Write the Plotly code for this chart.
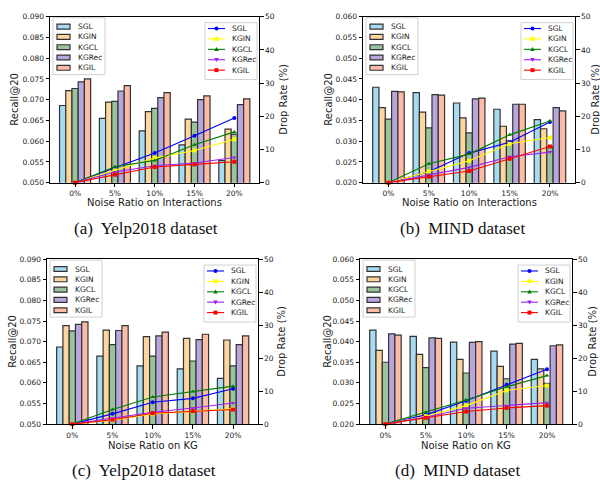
import plotly.graph_objects as go

categories = ["0%", "5%", "10%", "15%", "20%"]
models = ["SGL", "KGIN", "KGCL", "KGRec", "KGIL"]

# Recall@20 bars, rows follow `models`
recall_yelp_inter = [
    [0.0686, 0.0655, 0.0625, 0.0591, 0.0553],
    [0.0722, 0.0694, 0.0671, 0.0653, 0.0629],
    [0.0727, 0.0696, 0.0679, 0.0646, 0.0617],
    [0.0743, 0.0721, 0.0705, 0.0700, 0.0688],
    [0.0750, 0.0734, 0.0717, 0.0709, 0.0702],
]
drop_yelp_inter = [
    [0, 4.5, 8.9, 14.1, 19.5],
    [0, 3.7, 7.4, 9.7, 13.1],
    [0, 4.8, 6.7, 11.4, 15.3],
    [0, 3.2, 5.1, 5.9, 7.6],
    [0, 2.4, 4.7, 5.5, 6.3],
]
recall_mind_inter = [
    [0.0430, 0.0417, 0.0392, 0.0377, 0.0352],
    [0.0381, 0.0370, 0.0356, 0.0336, 0.0330],
    [0.0353, 0.0332, 0.0320, 0.0301, 0.0286],
    [0.0420, 0.0412, 0.0402, 0.0389, 0.0381],
    [0.0419, 0.0411, 0.0404, 0.0389, 0.0373],
]
drop_mind_inter = [
    [0, 3.3, 8.9, 12.2, 18.3],
    [0, 3.4, 6.6, 11.7, 13.6],
    [0, 5.7, 8.6, 14.4, 18.6],
    [0, 2.2, 4.6, 7.8, 9.2],
    [0, 1.8, 3.5, 7.2, 10.9],
]
recall_yelp_kg = [
    [0.0687, 0.0665, 0.0641, 0.0634, 0.0611],
    [0.0739, 0.0728, 0.0712, 0.0708, 0.0704],
    [0.0726, 0.0693, 0.0665, 0.0653, 0.0641],
    [0.0742, 0.0727, 0.0714, 0.0705, 0.0693],
    [0.0748, 0.0739, 0.0723, 0.0718, 0.0714],
]
drop_yelp_kg = [
    [0, 3.1, 6.6, 7.8, 10.7],
    [0, 1.2, 3.1, 3.8, 4.6],
    [0, 4.4, 8.2, 9.9, 11.5],
    [0, 1.7, 3.6, 4.9, 6.4],
    [0, 1.3, 3.3, 3.9, 4.4],
]
recall_mind_kg = [
    [0.0428, 0.0413, 0.0399, 0.0377, 0.0357],
    [0.0379, 0.0369, 0.0357, 0.0340, 0.0334],
    [0.0350, 0.0337, 0.0324, 0.0310, 0.0299],
    [0.0419, 0.0409, 0.0398, 0.0394, 0.0390],
    [0.0416, 0.0408, 0.0400, 0.0396, 0.0392],
]
drop_mind_kg = [
    [0, 2.8, 7.1, 11.9, 16.6],
    [0, 2.4, 5.6, 10.2, 11.7],
    [0, 3.6, 7.3, 11.3, 14.7],
    [0, 2.1, 4.8, 5.6, 6.5],
    [0, 1.9, 3.8, 4.9, 5.6],
]

bar_colors = ["#a6dbf1", "#fdd59f", "#98c39d", "#b9a6df", "#fdbca5"]
line_colors = ["#0000ff", "#ffff00", "#008000", "#a020f0", "#ff0000"]
line_symbols = ["circle", "square", "triangle-up", "triangle-down", "square"]

W, H = 600, 487
FONT = "DejaVu Sans"
TXT = "#1a1a1a"

panels = [
    dict(recall=recall_yelp_inter, drop=drop_yelp_inter, rng=[0.05, 0.09],
         box=(50, 13, 259, 182), xt="Noise Ratio on Interactions", xty=20,
         cap="(a)  Yelp2018 dataset", capx=146, ylx=15, yrx=284),
    dict(recall=recall_mind_inter, drop=drop_mind_inter, rng=[0.02, 0.06],
         box=(363, 13, 575, 182), xt="Noise Ratio on Interactions", xty=20,
         cap="(b)  MIND dataset", capx=463, ylx=329, yrx=596),
    dict(recall=recall_yelp_kg, drop=drop_yelp_kg, rng=[0.05, 0.09],
         box=(47, 260, 258, 428), xt="Noise Ratio on KG", xty=21.5,
         cap="(c)  Yelp2018 dataset", capx=144, ylx=13, yrx=282),
    dict(recall=recall_mind_kg, drop=drop_mind_kg, rng=[0.02, 0.06],
         box=(360, 260, 572, 428), xt="Noise Ratio on KG", xty=21.5,
         cap="(d)  MIND dataset", capx=457, ylx=328, yrx=593),
]


def px(x):
    return x / W


def py(y):
    return 1 - y / H


fig = go.Figure()
shapes = []
annotations = []
layout = {}

for i, p in enumerate(panels):
    xn = "" if i == 0 else str(i + 1)
    yl = "" if i == 0 else str(2 * i + 1)
    yr = str(2 * i + 2)
    L, T, R, B = p["box"]
    for m, name in enumerate(models):
        fig.add_trace(go.Bar(
            x=categories, y=p["recall"][m], name=name, showlegend=False,
            marker=dict(color=bar_colors[m], line=dict(color="#333333", width=1.2)),
            xaxis="x" + xn, yaxis="y" + yl, offsetgroup=str(m),
        ))
    for m, name in enumerate(models):
        fig.add_trace(go.Scatter(
            x=categories, y=p["drop"][m], name=name, showlegend=False,
            mode="lines+markers", line=dict(color=line_colors[m], width=1.1),
            marker=dict(symbol=line_symbols[m], size=4, color=line_colors[m]),
            xaxis="x" + xn, yaxis="y" + yr, cliponaxis=False,
        ))
    axfont = dict(family=FONT, size=7.5, color=TXT)
    layout["xaxis" + xn] = dict(
        domain=[px(L), px(R)], anchor="y" + yl, type="category",
        range=[-0.63, 4.62], showline=True, mirror=True, linecolor="black",
        linewidth=1, ticks="outside", ticklen=3.5, tickwidth=1, tickcolor="black",
        tickfont=axfont, showgrid=False, zeroline=False, fixedrange=True,
    )
    layout["yaxis" + yl] = dict(
        domain=[py(B), py(T)], anchor="x" + xn, range=p["rng"], dtick=0.005,
        tickformat=".3f", showline=True, linecolor="black", linewidth=1,
        ticks="outside", ticklen=3.5, tickwidth=1, tickcolor="black",
        tickfont=axfont, showgrid=False, zeroline=False,
    )
    layout["yaxis" + yr] = dict(
        domain=[py(B), py(T)], anchor="x" + xn, overlaying="y" + yl, side="right",
        range=[0, 50], dtick=10, showline=True, linecolor="black", linewidth=1,
        ticks="outside", ticklen=3.5, tickwidth=1, tickcolor="black",
        tickfont=axfont, showgrid=False, zeroline=False, ticklabeloverflow="allow",
    )
    # axis titles
    tfont = dict(family=FONT, size=10, color=TXT)
    annotations.append(dict(text="Recall@20", x=px(p["ylx"]), y=py((T + B) / 2),
                            xref="paper", yref="paper", textangle=-90, showarrow=False,
                            font=tfont, xanchor="center", yanchor="middle"))
    annotations.append(dict(text="Drop Rate (%)", x=px(p["yrx"]), y=py((T + B) / 2),
                            xref="paper", yref="paper", textangle=-90, showarrow=False,
                            font=tfont, xanchor="center", yanchor="middle"))
    annotations.append(dict(text=p["xt"], x=px((L + R) / 2), y=py(B + p["xty"]),
                            xref="paper", yref="paper", showarrow=False,
                            font=tfont, xanchor="center", yanchor="middle"))
    annotations.append(dict(text=p["cap"], x=px(p["capx"]), y=py(B + 47),
                            xref="paper", yref="paper", showarrow=False,
                            font=dict(family="Liberation Serif", size=17, color="#111"),
                            xanchor="center", yanchor="middle"))

    lfont = dict(family=FONT, size=7.5, color=TXT)
    # bar legend (drawn manually)
    shapes.append(dict(type="rect", xref="paper", yref="paper",
                       x0=px(L + 3), x1=px(L + 55), y0=py(T + 1), y1=py(T + 59),
                       line=dict(color="#d0d0d0", width=1), fillcolor="rgba(255,255,255,0.85)"))
    for m, name in enumerate(models):
        yc = T + 10 + m * 10.5
        shapes.append(dict(type="rect", xref="paper", yref="paper",
                           x0=px(L + 7), x1=px(L + 20), y0=py(yc + 2.5), y1=py(yc - 2.5),
                           line=dict(color="#333333", width=1.2), fillcolor=bar_colors[m]))
        annotations.append(dict(text=name, x=px(L + 26), y=py(yc), xref="paper", yref="paper",
                                showarrow=False, xanchor="left", yanchor="middle", font=lfont))
    # line legend (drawn manually)
    shapes.append(dict(type="rect", xref="paper", yref="paper",
                       x0=px(R - 54), x1=px(R - 2), y0=py(T + 6), y1=py(T + 64),
                       line=dict(color="#d0d0d0", width=1), fillcolor="rgba(255,255,255,0.85)"))
    for m, name in enumerate(models):
        yc = T + 12 + m * 10.6
        shapes.append(dict(type="line", xref="paper", yref="paper",
                           x0=px(R - 51), x1=px(R - 34), y0=py(yc), y1=py(yc),
                           line=dict(color=line_colors[m], width=1.1)))
        cx, s = R - 42.5, 2
        sym = line_symbols[m]
        if sym == "circle":
            shapes.append(dict(type="circle", xref="paper", yref="paper",
                               x0=px(cx - s), x1=px(cx + s), y0=py(yc + s), y1=py(yc - s),
                               line=dict(width=0), fillcolor=line_colors[m]))
        elif sym == "square":
            shapes.append(dict(type="rect", xref="paper", yref="paper",
                               x0=px(cx - s), x1=px(cx + s), y0=py(yc + s), y1=py(yc - s),
                               line=dict(width=0), fillcolor=line_colors[m]))
        else:
            d = 1 if sym == "triangle-up" else -1
            path = "M {} {} L {} {} L {} {} Z".format(
                px(cx), py(yc - d * 2.3), px(cx - 2.3), py(yc + d * 1.7),
                px(cx + 2.3), py(yc + d * 1.7))
            shapes.append(dict(type="path", xref="paper", yref="paper", path=path,
                               line=dict(width=0), fillcolor=line_colors[m]))
        annotations.append(dict(text=name, x=px(R - 29), y=py(yc), xref="paper", yref="paper",
                                showarrow=False, xanchor="left", yanchor="middle", font=lfont))

fig.update_layout(
    width=W, height=H, margin=dict(l=0, r=0, t=0, b=0),
    paper_bgcolor="white", plot_bgcolor="white",
    barmode="group", bargap=0.22, bargroupgap=0,
    showlegend=False, shapes=shapes, annotations=annotations,
    font=dict(family=FONT, color=TXT),
    **layout,
)

fig.write_html(
    "out.html",
    config={"displayModeBar": False},
    post_script="document.body.style.margin='0';document.body.style.overflow='hidden';",
)
